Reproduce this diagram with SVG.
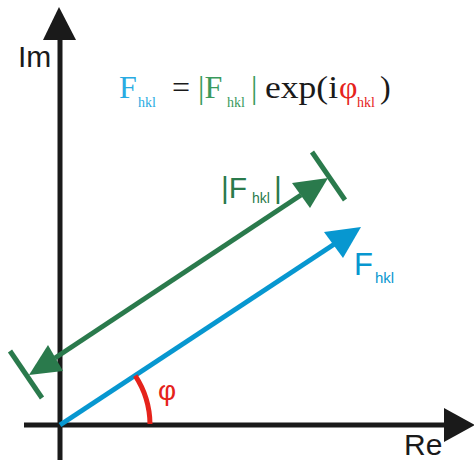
<svg xmlns="http://www.w3.org/2000/svg" width="474" height="460" viewBox="0 0 474 460">
  <style>
    .axis { stroke: #1a1a1a; stroke-width: 5; fill: none; }
    .head { fill: #1a1a1a; }
    .blue { stroke: #0797d0; stroke-width: 5; fill: none; }
    .green { stroke: #2a7a4c; stroke-width: 5; fill: none; }
    .sans { font-family: "Liberation Sans", Arial, sans-serif; }
    .serif { font-family: "Liberation Serif", "Times New Roman", serif; }
  </style>
  <rect width="474" height="460" fill="#ffffff"/>

  <g id="axes">
    <line class="axis" x1="60" y1="460" x2="60" y2="38"/>
    <polygon class="head" points="59,7 43,40 76,40"/>
    <line class="axis" x1="24" y1="425" x2="446" y2="425"/>
    <polygon class="head" points="475,425 444,408 444,442"/>
    <text class="sans" x="18" y="67" font-size="30" fill="#1a1a1a">Im</text>
    <text class="sans" x="404" y="455" font-size="30" fill="#1a1a1a">Re</text>
  </g>

  <g id="connectors">
    <g id="F-vector">
      <line class="blue" x1="60" y1="425" x2="336" y2="243"/>
      <polygon fill="#0797d0" points="361,227 324,232 343,258"/>
    </g>
    <g id="absF-vector">
      <line class="green" x1="301" y1="195" x2="55" y2="358"/>
      <polygon fill="#2a7a4c" points="328,178 292,183 310,208"/>
      <polygon fill="#2a7a4c" points="29,375 48,345 63,371"/>
      <line class="green" x1="312" y1="152" x2="345" y2="200"/>
      <line class="green" x1="10" y1="351" x2="42" y2="398"/>
    </g>
    <path id="angle-arc" d="M150,424 A90,90 0 0 0 135.2,375.6" fill="none" stroke="#e5231b" stroke-width="5"/>
  </g>

  <g id="labels">
    <text class="sans" x="158" y="400" font-size="28" fill="#e5231b">φ</text>
    <g id="label-F" class="sans" fill="#0797d0">
      <text x="354" y="275" font-size="31">F</text>
      <text x="375" y="283" font-size="15">hkl</text>
    </g>
    <g id="label-absF" class="sans" fill="#2a7a4c">
      <text x="221" y="198" font-size="30">|F</text>
      <text x="252" y="203" font-size="14">hkl</text>
      <text x="274" y="198" font-size="30">|</text>
    </g>
  </g>

  <g id="formula" class="serif">
    <text x="119" y="98" font-size="32" fill="#29abe2">F</text>
    <text x="138" y="107" font-size="14" fill="#29abe2">hkl</text>
    <text x="172" y="98" font-size="32" fill="#1a1a1a">=</text>
    <text x="198" y="98" font-size="32" fill="#3a9a5c">|F</text>
    <text x="227" y="107" font-size="14" fill="#3a9a5c">hkl</text>
    <text x="251" y="98" font-size="32" fill="#3a9a5c">|</text>
    <text x="265" y="98" font-size="32" fill="#1a1a1a" textLength="73" lengthAdjust="spacingAndGlyphs">exp(i</text>
    <text x="339" y="98" font-size="32" fill="#e5231b">φ</text>
    <text x="357" y="107" font-size="14" fill="#e5231b">hkl</text>
    <text x="380" y="98" font-size="32" fill="#1a1a1a">)</text>
  </g>
</svg>
